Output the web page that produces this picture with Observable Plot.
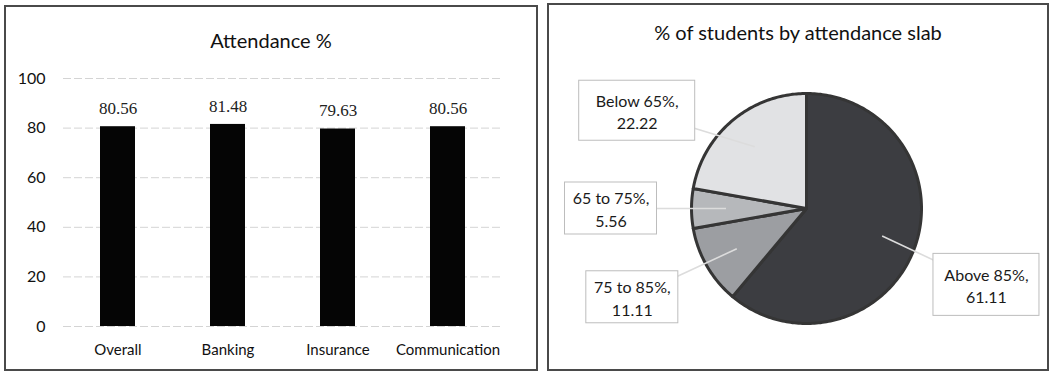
<!DOCTYPE html>
<html><head><meta charset="utf-8">
<script src="https://cdn.jsdelivr.net/npm/d3@7"></script>
<script src="https://cdn.jsdelivr.net/npm/@observablehq/plot@0.6"></script>
<style>
body{margin:0;background:#fff;font-family:Lato,sans-serif;}
.panel{position:absolute;border:2px solid #4a4a4a;background:#fff;box-sizing:border-box;overflow:hidden;}
.panel svg{position:absolute;left:0;top:0;}
.title{position:absolute;left:0;right:0;text-align:center;font-size:20px;color:#111;z-index:2;}
</style></head><body>
<div id="left" class="panel" style="left:4px;top:5px;width:534px;height:366px"><div class="title" style="top:21px">Attendance %</div></div>
<div id="right" class="panel" style="left:547px;top:3px;width:502px;height:368px"><div class="title" style="top:15px">% of students by attendance slab</div></div>
<script>
// ---- data ----
const categories = ["Overall", "Banking", "Insurance", "Communication"];
const attendance = [80.56, 81.48, 79.63, 80.56];
const yTicks = [0, 20, 40, 60, 80, 100];
const slabs = ["Above 85%", "75 to 85%", "65 to 75%", "Below 65%"];
const slabShare = [61.11, 11.11, 5.56, 22.22];

// ---- styles / layout ----
const slabColors = ["#3c3d41", "#9c9ea2", "#b6b8bb", "#e1e2e4"];
const labelNudgeDeg = [3, 3, 0, -20];
const boxW = [106, 92, 92, 116];
const boxH = [62, 52, 52, 60];

// ---- bar chart ----
const barData = categories.map((c, i) => ({cat: c, value: attendance[i]}));
const LW = 530, LH = 362;
const left = Plot.plot({
  width: LW, height: LH,
  marginTop: 71, marginBottom: 43, marginLeft: 57, marginRight: 33,
  style: {fontFamily: "Lato, sans-serif", fontSize: "15px", color: "#111", background: "transparent"},
  x: {domain: categories, paddingInner: 0.68, paddingOuter: 0.34, tickSize: 0, tickPadding: 18, label: null},
  y: {domain: [0, 100], ticks: yTicks, tickSize: 0, tickPadding: 18, label: null},
  marks: [
    Plot.ruleY(yTicks, {stroke: "#d4d4d4", strokeDasharray: "8,3"}),
    Plot.barY(barData, {x: "cat", y: "value", fill: "#050505"}),
    Plot.text(barData, {x: "cat", y: "value", text: d => d.value.toFixed(2), dy: -18,
      fontFamily: "Liberation Serif, serif", fontSize: 17, fill: "#222"})
  ]
});
left.querySelectorAll("g[aria-label='y-axis'] text, g[aria-label='y-axis tick label'] text").forEach(t => t.setAttribute("font-size", "16"));
document.getElementById("left").appendChild(left);

// ---- pie chart ----
const RW = 498, RH = 364;
const cx = 257, cy = 203, r = 115;
const arcs = d3.pie().sort(null).value(d => d)(slabShare);
const pt = (a, rad) => ({x: cx + rad * Math.sin(a), y: cy - rad * Math.cos(a)});
const slicePolys = arcs.map((a, i) => {
  const pts = [pt(0, 0)];
  const n = Math.max(2, Math.ceil((a.endAngle - a.startAngle) / (Math.PI / 180)));
  for (let k = 0; k <= n; ++k) pts.push(pt(a.startAngle + (a.endAngle - a.startAngle) * k / n, r));
  pts.push(pt(0, 0));
  return pts;
});
const labels = arcs.map((a, i) => {
  const mid = (a.startAngle + a.endAngle) / 2;
  const inner = pt(mid, r * 0.7);
  const outer = pt(mid + labelNudgeDeg[i] * Math.PI / 180, r * 1.7);
  return {name: slabs[i], value: slabShare[i], x1: inner.x, y1: inner.y, lx: outer.x, ly: outer.y, w: boxW[i], h: boxH[i]};
});
const right = Plot.plot({
  width: RW, height: RH, margin: 0,
  style: {fontFamily: "Lato, sans-serif", fontSize: "14px", color: "#111", background: "transparent"},
  x: {domain: [0, RW], range: [0, RW], axis: null},
  y: {domain: [0, RH], range: [0, RH], axis: null},
  marks: [
    ...slicePolys.map((p, i) => Plot.line(p, {x: "x", y: "y", fill: slabColors[i], stroke: "#353535", strokeWidth: 3, strokeLinejoin: "round"})),
    Plot.link(labels, {x1: "x1", y1: "y1", x2: "lx", y2: "ly", stroke: "#dcdcdc", strokeWidth: 1.6}),
    Plot.rect(labels, {x1: d => d.lx - d.w / 2, x2: d => d.lx + d.w / 2, y1: d => d.ly - d.h / 2, y2: d => d.ly + d.h / 2, fill: "#fff", stroke: "#bdbdbd", strokeWidth: 1}),
    Plot.text(labels, {x: "lx", y: "ly", text: d => `${d.name},\n${d.value.toFixed(2)}`, lineHeight: 1.4, fontSize: 16, fill: "#1a1a1a"})
  ]
});
document.getElementById("right").appendChild(right);
</script>
</body></html>
